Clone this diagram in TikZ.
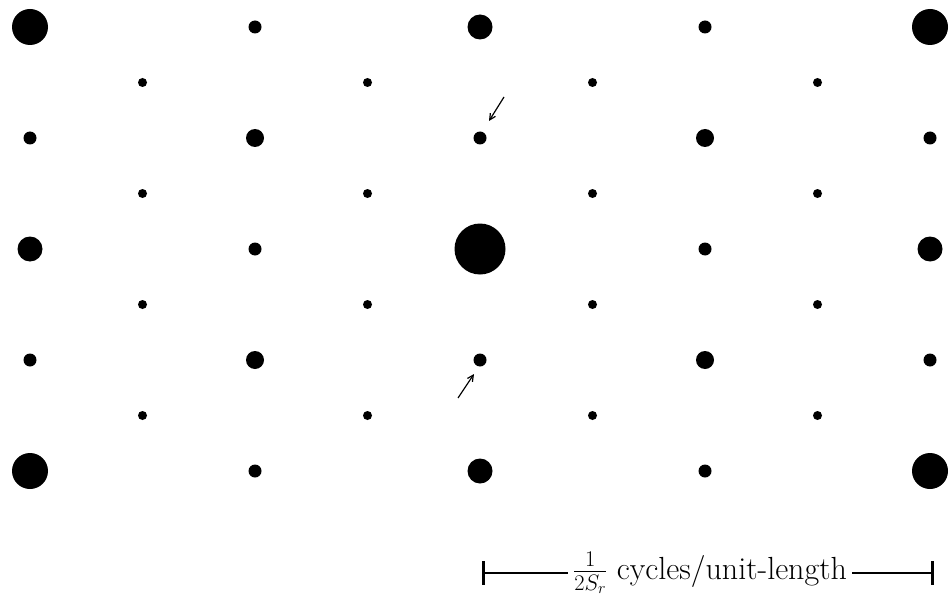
\RequirePackage{fix-cm}
\documentclass[tikz,border=0pt]{standalone}
\usepackage{fontspec}
\usetikzlibrary{arrows.meta}
\begin{document}
\begin{tikzpicture}[x=1pt,y=-1pt,
  dot/.style={circle,fill=black,draw=none,inner sep=0pt,minimum size=#1},
  pointer/.style={-{Straight Barb[length=6pt,width=6pt]},line width=1.2pt},
  bar/.style={line width=2pt},
  tickmark/.style={line width=3pt},
  label/.style={font=\fontsize{32}{38}\selectfont,inner sep=5pt,anchor=base}]
\useasboundingbox (0,0) rectangle (949,596);
% even rows
\foreach \j/\a/\b/\c/\d/\e in {0/36/13/25/13/36, 2/13/18/13/18/13, 4/25/13/51/13/25, 6/13/18/13/18/13, 8/36/13/25/13/36}{
  \foreach \i/\s in {0/\a,2/\b,4/\c,6/\d,8/\e}{
    \node[dot=\s pt] (d\i\j) at ({30+112.5*\i},{27+55.5*\j}) {};
  }
}
% odd rows
\foreach \j in {1,3,5,7}{
  \foreach \i in {1,3,5,7}{
    \node[dot=9pt] (d\i\j) at ({30+112.5*\i},{27+55.5*\j}) {};
  }
}
% pointers
\coordinate (ua) at (504,97);
\coordinate (ub) at (489,121);
\coordinate (la) at (458,398);
\coordinate (lb) at (474,374);
\draw[pointer] (ua) -- (ub);
\draw[pointer] (la) -- (lb);
% scale bar
\node[label] (lbl) at (710,579) {$\frac{1}{2S_r}$ cycles/unit-length};
\coordinate (bl) at (483,573);
\coordinate (br) at (932,573);
\coordinate (blt) at (483,561);
\coordinate (blb) at (483,585);
\coordinate (brt) at (932,561);
\coordinate (brb) at (932,585);
\draw[bar] (bl) -- (bl -| lbl.west);
\draw[bar] (lbl.east |- br) -- (br);
\draw[tickmark] (blt) -- (blb);
\draw[tickmark] (brt) -- (brb);
\end{tikzpicture}
\end{document}
